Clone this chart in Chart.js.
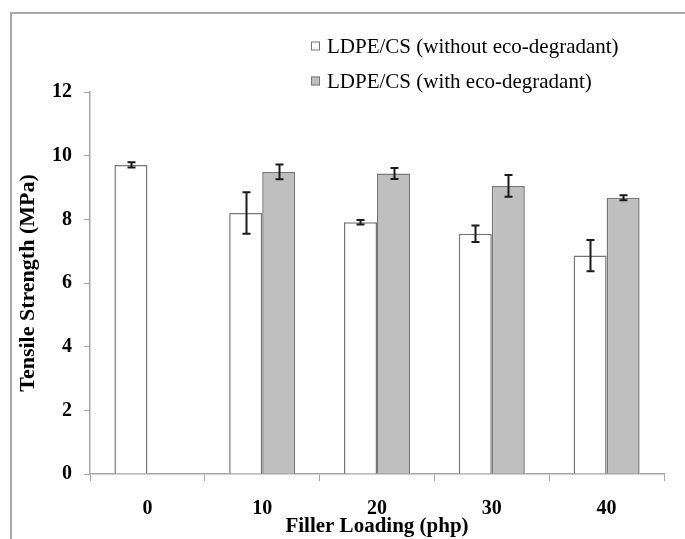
<!DOCTYPE html>
<html>
<head>
<meta charset="utf-8">
<title>Tensile Strength vs Filler Loading</title>
<script src="https://cdn.jsdelivr.net/npm/chart.js@4.4.0/dist/chart.umd.min.js"></script>
<style>
  html, body { margin:0; padding:0; background:#fff; }
  canvas { display:block; }
</style>
</head>
<body>
<canvas id="tensileChart" width="685" height="539"></canvas>
<script>
// --------- DATA ----------
const categories = ['0', '10', '20', '30', '40'];
const withoutEco = [9.71, 8.20, 7.91, 7.55, 6.86];
const withoutEcoErr = [0.08, 0.65, 0.07, 0.26, 0.49];
const withEco = [null, 9.49, 9.44, 9.05, 8.68];
const withEcoErr = [null, 0.23, 0.17, 0.34, 0.08];
const yTicks = [0, 2, 4, 6, 8, 10, 12];

// --------- STYLE ----------
const serif = '"Liberation Serif", "Times New Roman", serif';
const axisGray = '#a6a6a6';
const barEdge = '#767676';

// Outer frame (left + top edges, the rest is cropped off)
const framePlugin = {
    id: 'frame',
    beforeDraw(chart){
        const ctx = chart.ctx;
        ctx.save();
        ctx.strokeStyle = '#a8a8a8';
        ctx.lineWidth = 2;
        ctx.beginPath();
        ctx.moveTo(11, chart.height);
        ctx.lineTo(11, 13);
        ctx.lineTo(chart.width, 13);
        ctx.stroke();
        ctx.restore();
    }
};

// Error bars drawn from the y scale
const errorBarPlugin = {
    id: 'errorBars',
    afterDatasetsDraw(chart){
        const ctx = chart.ctx;
        const yScale = chart.scales.y;
        ctx.save();
        ctx.strokeStyle = '#1a1a1a';
        ctx.lineWidth = 2;
        chart.data.datasets.forEach((ds, i)=>{
            const meta = chart.getDatasetMeta(i);
            meta.data.forEach((bar, j)=>{
                const v = ds.data[j], e = ds.errors[j];
                if(v == null || e == null) return;
                const yTop = yScale.getPixelForValue(v + e);
                const yBot = yScale.getPixelForValue(v - e);
                const x = Math.round(bar.x) + 0.5;
                ctx.beginPath();
                ctx.moveTo(x, yTop); ctx.lineTo(x, yBot);
                ctx.moveTo(x - 4, yTop); ctx.lineTo(x + 4, yTop);
                ctx.moveTo(x - 4, yBot); ctx.lineTo(x + 4, yBot);
                ctx.stroke();
            });
        });
        ctx.restore();
    }
};

// Legend in the top right, Excel style
const legendPlugin = {
    id: 'sideLegend',
    afterDraw(chart){
        const ctx = chart.ctx;
        ctx.save();
        ctx.font = '21px ' + serif;
        ctx.textBaseline = 'alphabetic';
        chart.data.datasets.forEach((ds, i)=>{
            const base = 52.5 + i * 35;
            ctx.fillStyle = ds.backgroundColor;
            ctx.fillRect(311, base - 11, 9, 9);
            ctx.strokeStyle = ds.borderColor;
            ctx.lineWidth = 1;
            ctx.strokeRect(311.5, base - 10.5, 8, 8);
            ctx.fillStyle = '#000';
            ctx.fillText(ds.label, 327, base);
        });
        ctx.restore();
    }
};

// --------- CHART ----------
const ctx = document.getElementById('tensileChart').getContext('2d');

const tensileChart = new Chart(ctx, {
    type: 'bar',
    data: {
        labels: categories,
        datasets: [
            {
                label: 'LDPE/CS (without eco-degradant)',
                data: withoutEco,
                errors: withoutEcoErr,
                backgroundColor: '#ffffff',
                borderColor: barEdge,
                borderWidth: 1.5
            },
            {
                label: 'LDPE/CS (with eco-degradant)',
                data: withEco,
                errors: withEcoErr,
                backgroundColor: '#bfbfbf',
                borderColor: barEdge,
                borderWidth: 1.5
            }
        ]
    },
    options: {
        responsive: false,
        animation: false,
        layout: { padding: { top: 92, right: 21, bottom: 0, left: 10 } },
        datasets: { bar: { barPercentage: 1, categoryPercentage: 0.575 } },
        plugins: { legend: { display: false }, tooltip: { enabled: false } },
        scales: {
            x: {
                grid: { offset: true, drawOnChartArea: false, tickLength: 7, color: axisGray },
                border: { color: axisGray, width: 1.5 },
                ticks: { color: '#000', padding: 16, font: { family: serif, size: 20, weight: 'bold' } },
                title: {
                    display: true,
                    text: 'Filler Loading (php)',
                    color: '#000',
                    padding: { top: 0, bottom: 0 },
                    font: { family: serif, size: 21, weight: 'bold' }
                },
                afterFit: s => { s.height = 65; }
            },
            y: {
                min: 0,
                max: 12,
                afterBuildTicks: s => { s.ticks = yTicks.map(v => ({ value: v })); },
                grid: { drawOnChartArea: false, tickLength: 6, color: axisGray },
                border: { color: axisGray, width: 1.5 },
                ticks: { color: '#000', padding: 12, font: { family: serif, size: 20, weight: 'bold' } },
                title: {
                    display: true,
                    text: 'Tensile Strength (MPa)',
                    color: '#000',
                    padding: { top: 5, bottom: 0 },
                    font: { family: serif, size: 22, weight: 'bold' }
                },
                afterFit: s => { s.width = 80; }
            }
        }
    },
    plugins: [framePlugin, errorBarPlugin, legendPlugin]
});
</script>
</body>
</html>
